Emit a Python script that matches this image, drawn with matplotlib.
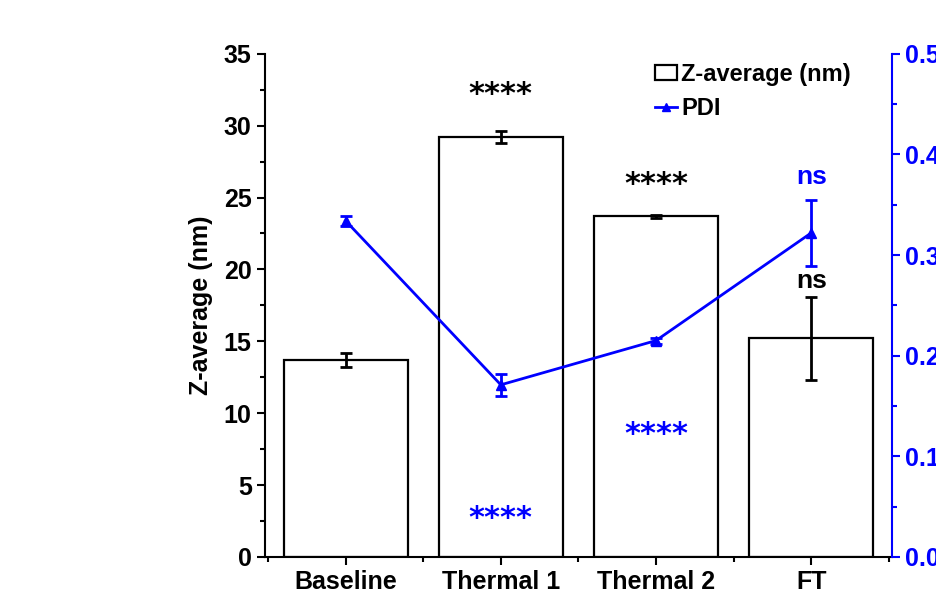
import numpy as np
import matplotlib.pyplot as plt
from matplotlib.ticker import MultipleLocator, FixedLocator
from matplotlib.lines import Line2D

plt.rcParams['font.family'] = ['Liberation Sans', 'DejaVu Sans']
plt.rcParams['font.weight'] = 'bold'

# data
groups = ['Baseline', 'Thermal 1', 'Thermal 2', 'FT']
zavg = [13.7, 29.2, 23.7, 15.2]
zavg_err = [0.5, 0.4, 0.1, 2.9]
pdi = [0.334, 0.171, 0.215, 0.322]
pdi_err = [0.005, 0.011, 0.003, 0.033]

z_sig = ['', '****', '****', 'ns']
z_sig_y = [0, 32.2, 25.9, 19.2]
pdi_sig = ['', '****', '****', 'ns']
pdi_sig_y = [0, 0.038, 0.122, 0.378]

x = np.arange(1, len(groups) + 1)
fs = 18

fig = plt.figure(figsize=(9.36, 6.04), dpi=100)
ax = fig.add_axes([0.283, 0.078, 0.670, 0.833])

ax.bar(x, zavg, width=0.8, color='white', edgecolor='black', linewidth=1.6,
       label='Z-average (nm)', zorder=1)
ax.errorbar(x, zavg, yerr=zavg_err, fmt='none', ecolor='black', elinewidth=2,
            capsize=4.5, capthick=2, zorder=2)

ax.set_xlim(0.48, 4.52)
ax.set_ylim(0, 35)
ax.set_xticks(x)
ax.set_xticklabels(groups)
ax.xaxis.set_minor_locator(FixedLocator(np.arange(0.5, 4.6, 1.0)))
ax.yaxis.set_major_locator(MultipleLocator(5))
ax.yaxis.set_minor_locator(MultipleLocator(2.5))
ax.set_ylabel('Z-average (nm)', fontsize=fs, fontweight='bold', labelpad=8)
ax.tick_params(axis='both', which='major', labelsize=fs, width=1.5, length=6, direction='out')
ax.tick_params(axis='both', which='minor', width=1.5, length=3.5, direction='out')
ax.spines['top'].set_visible(False)
ax.spines['right'].set_visible(False)
for s in ['left', 'bottom']:
    ax.spines[s].set_linewidth(1.5)

for xi, t, yy in zip(x, z_sig, z_sig_y):
    if t == 'ns':
        ax.text(xi, yy, t, ha='center', va='center', fontsize=fs + 1, fontweight='bold', color='black')
    elif t:
        ax.text(xi, yy, t, ha='center', va='center', fontsize=22, fontweight='bold', color='black',
                family='DejaVu Sans')

ax2 = ax.twinx()
ax2.errorbar(x, pdi, yerr=pdi_err, color='blue', marker='^', markersize=7, linewidth=2,
             elinewidth=2, capsize=4.5, capthick=2, zorder=3)
ax2.set_ylim(0, 0.5)
ax2.yaxis.set_major_locator(MultipleLocator(0.1))
ax2.yaxis.set_minor_locator(MultipleLocator(0.05))
ax2.yaxis.set_major_formatter(plt.FormatStrFormatter('%.1f'))
ax2.tick_params(axis='y', which='major', labelsize=fs, width=1.5, length=6, colors='blue')
ax2.tick_params(axis='y', which='minor', width=1.5, length=3.5, colors='blue')
ax2.spines['right'].set_color('blue')
ax2.spines['right'].set_linewidth(1.5)
ax2.spines['top'].set_visible(False)
ax2.spines['left'].set_visible(False)
ax2.spines['bottom'].set_visible(False)

for xi, t, yy in zip(x, pdi_sig, pdi_sig_y):
    if t == 'ns':
        ax2.text(xi, yy, t, ha='center', va='center', fontsize=fs + 1, fontweight='bold', color='blue')
    elif t:
        ax2.text(xi, yy, t, ha='center', va='center', fontsize=22, fontweight='bold', color='blue',
                 family='DejaVu Sans')

h1, l1 = ax.get_legend_handles_labels()
pdi_handle = Line2D([], [], color='blue', marker='^', markersize=6, linewidth=2)
ax.legend(h1 + [pdi_handle], l1 + ['PDI'], loc='upper left', bbox_to_anchor=(0.6, 1.01),
          frameon=False, handlelength=0.9, handleheight=0.6, handletextpad=0.2,
          labelspacing=0.45, borderaxespad=0.2, prop={'weight': 'bold', 'size': 17})

fig.savefig('out.png', dpi=100)
